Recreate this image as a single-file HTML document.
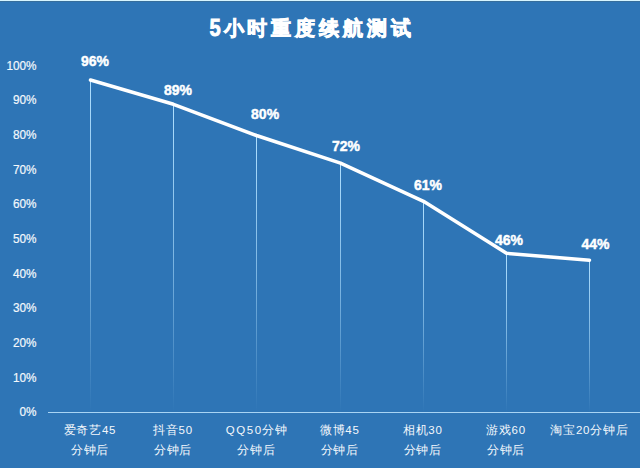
<!DOCTYPE html>
<html><head><meta charset="utf-8"><style>
html,body{margin:0;padding:0;}
body{width:640px;height:468px;overflow:hidden;background:#2E75B6;font-family:"Liberation Sans",sans-serif;}
svg{display:block;font-family:"Liberation Sans",sans-serif;}
.cat{font-size:11.5px;letter-spacing:0.75px;fill:#f4f8fc;}
.ttl{font-size:20.2px;letter-spacing:3.9px;font-weight:bold;fill:#fff;stroke:#fff;stroke-width:0.8px;}
</style></head><body>
<svg width="640" height="468" viewBox="0 0 640 468">
<defs>
<linearGradient id="dg" x1="0" y1="0" x2="0" y2="1" gradientUnits="objectBoundingBox">
<stop offset="0" stop-color="#b0e0ff" stop-opacity="1"/>
<stop offset="0.5" stop-color="#b0e0ff" stop-opacity="0.6"/>
<stop offset="1.0" stop-color="#b0e0ff" stop-opacity="0"/>
</linearGradient>
</defs>
<rect x="0" y="0" width="640" height="468" fill="#2E75B6"/>
<rect x="0" y="0" width="640" height="1" fill="#d7f5ff"/>
<rect x="0" y="1" width="640" height="1" fill="#376e9b"/>
<text transform="translate(209.6 35.5) scale(0.86 1)" x="0" y="0" fill="#fff" stroke="#fff" stroke-width="0.8" font-size="23.5" font-weight="bold">5</text>
<text class="ttl" x="223.6" y="34.6">小时重度续航测试</text>
<text transform="translate(36.6 416.20) scale(0.944 1)" x="0" y="0" text-anchor="end" fill="#f4f8fc" stroke="#f4f8fc" stroke-width="0.2" font-size="12.5">0%</text>
<text transform="translate(36.6 381.55) scale(0.944 1)" x="0" y="0" text-anchor="end" fill="#f4f8fc" stroke="#f4f8fc" stroke-width="0.2" font-size="12.5">10%</text>
<text transform="translate(36.6 346.90) scale(0.944 1)" x="0" y="0" text-anchor="end" fill="#f4f8fc" stroke="#f4f8fc" stroke-width="0.2" font-size="12.5">20%</text>
<text transform="translate(36.6 312.25) scale(0.944 1)" x="0" y="0" text-anchor="end" fill="#f4f8fc" stroke="#f4f8fc" stroke-width="0.2" font-size="12.5">30%</text>
<text transform="translate(36.6 277.60) scale(0.944 1)" x="0" y="0" text-anchor="end" fill="#f4f8fc" stroke="#f4f8fc" stroke-width="0.2" font-size="12.5">40%</text>
<text transform="translate(36.6 242.95) scale(0.944 1)" x="0" y="0" text-anchor="end" fill="#f4f8fc" stroke="#f4f8fc" stroke-width="0.2" font-size="12.5">50%</text>
<text transform="translate(36.6 208.30) scale(0.944 1)" x="0" y="0" text-anchor="end" fill="#f4f8fc" stroke="#f4f8fc" stroke-width="0.2" font-size="12.5">60%</text>
<text transform="translate(36.6 173.65) scale(0.944 1)" x="0" y="0" text-anchor="end" fill="#f4f8fc" stroke="#f4f8fc" stroke-width="0.2" font-size="12.5">70%</text>
<text transform="translate(36.6 139.00) scale(0.944 1)" x="0" y="0" text-anchor="end" fill="#f4f8fc" stroke="#f4f8fc" stroke-width="0.2" font-size="12.5">80%</text>
<text transform="translate(36.6 104.35) scale(0.944 1)" x="0" y="0" text-anchor="end" fill="#f4f8fc" stroke="#f4f8fc" stroke-width="0.2" font-size="12.5">90%</text>
<text transform="translate(36.6 69.70) scale(0.944 1)" x="0" y="0" text-anchor="end" fill="#f4f8fc" stroke="#f4f8fc" stroke-width="0.2" font-size="12.5">100%</text>
<rect x="48" y="412" width="592" height="1" fill="#a8d4f4"/>
<rect x="90.0" y="79.9" width="1" height="332.6" fill="url(#dg)"/>
<rect x="173.0" y="104.1" width="1" height="308.4" fill="url(#dg)"/>
<rect x="256.0" y="135.3" width="1" height="277.2" fill="url(#dg)"/>
<rect x="340.0" y="163.0" width="1" height="249.5" fill="url(#dg)"/>
<rect x="423.0" y="201.1" width="1" height="211.4" fill="url(#dg)"/>
<rect x="506.0" y="253.1" width="1" height="159.4" fill="url(#dg)"/>
<rect x="589.0" y="260.0" width="1" height="152.5" fill="url(#dg)"/>
<polyline points="90.5,80.0 173.5,104.3 256.5,135.5 340.5,163.2 423.5,201.3 506.5,253.3 589.5,260.2" fill="none" stroke="#fff" stroke-width="3.5" stroke-linejoin="round" stroke-linecap="round"/>
<text x="95.0" y="66.1" text-anchor="middle" fill="#fff" stroke="#fff" stroke-width="0.45" font-size="14" font-weight="bold">96%</text>
<text x="178.0" y="94.5" text-anchor="middle" fill="#fff" stroke="#fff" stroke-width="0.45" font-size="14" font-weight="bold">89%</text>
<text x="265.1" y="119.3" text-anchor="middle" fill="#fff" stroke="#fff" stroke-width="0.45" font-size="14" font-weight="bold">80%</text>
<text x="346.0" y="151.2" text-anchor="middle" fill="#fff" stroke="#fff" stroke-width="0.45" font-size="14" font-weight="bold">72%</text>
<text x="428.0" y="190.3" text-anchor="middle" fill="#fff" stroke="#fff" stroke-width="0.45" font-size="14" font-weight="bold">61%</text>
<text x="509.0" y="244.8" text-anchor="middle" fill="#fff" stroke="#fff" stroke-width="0.45" font-size="14" font-weight="bold">46%</text>
<text x="595.4" y="249.4" text-anchor="middle" fill="#fff" stroke="#fff" stroke-width="0.45" font-size="14" font-weight="bold">44%</text>
<text class="cat" x="89.9" y="434.0" text-anchor="middle">爱奇艺45</text>
<text class="cat" x="89.9" y="454.0" text-anchor="middle">分钟后</text>
<text class="cat" x="172.9" y="434.0" text-anchor="middle">抖音50</text>
<text class="cat" x="172.9" y="454.0" text-anchor="middle">分钟后</text>
<text class="cat" x="256.6" y="434.0" text-anchor="middle"><tspan style="letter-spacing:1.6px">QQ5</tspan>0分钟</text>
<text class="cat" x="256.6" y="454.0" text-anchor="middle">分钟后</text>
<text class="cat" x="339.7" y="434.0" text-anchor="middle">微博45</text>
<text class="cat" x="339.7" y="454.0" text-anchor="middle">分钟后</text>
<text class="cat" x="422.7" y="434.0" text-anchor="middle">相机30</text>
<text class="cat" x="422.7" y="454.0" text-anchor="middle">分钟后</text>
<text class="cat" x="505.9" y="434.0" text-anchor="middle">游戏60</text>
<text class="cat" x="505.9" y="454.0" text-anchor="middle">分钟后</text>
<text class="cat" x="589.5" y="434.0" text-anchor="middle">淘宝20分钟后</text>
</svg>
</body></html>
